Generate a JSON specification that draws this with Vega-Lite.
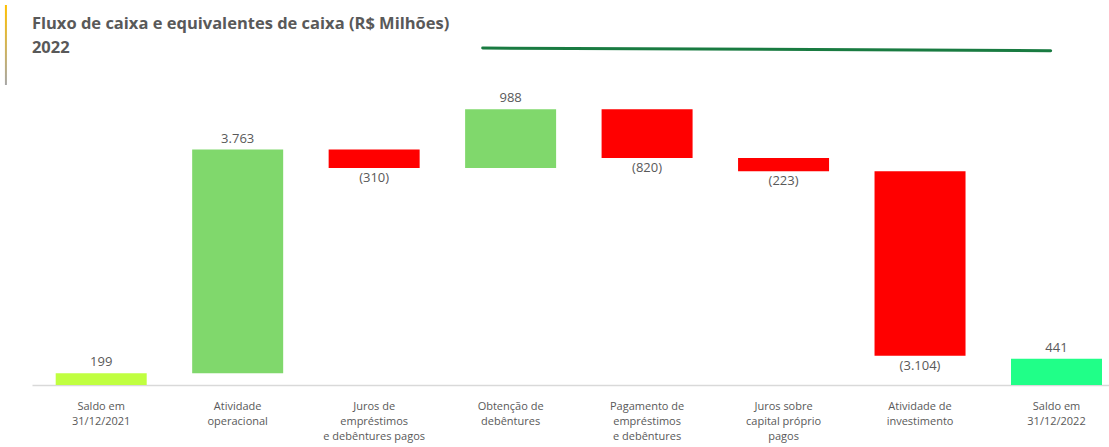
{
  "$schema": "https://vega.github.io/schema/vega-lite/v6.json",
  "width": 1077,
  "height": 315,
  "autosize": "none",
  "padding": {"left": 32, "top": 70, "right": 0, "bottom": 62},
  "title": {
    "text": ["Fluxo de caixa e equivalentes de caixa (R$ Milhões)", "2022"],
    "anchor": "start",
    "font": "Open Sans",
    "fontSize": 16.5,
    "fontWeight": "bold",
    "color": "#595959",
    "lineHeight": 24,
    "baseline": "top",
    "offset": 0,
    "dx": 27,
    "dy": 52
  },
  "config": {
    "view": {"stroke": null},
    "locale": {"number": {"decimal": ",", "thousands": ".", "grouping": [3], "currency": ["R$", ""]}}
  },
  "layer": [
    {
      "data": {"values": [
        {"cat": "Saldo em|31/12/2021", "start": 0, "end": 199, "value": 199, "kind": "inicio"},
        {"cat": "Atividade|operacional", "start": 199, "end": 3962, "value": 3763, "kind": "pos"},
        {"cat": "Juros de|empréstimos|e debêntures pagos", "start": 3962, "end": 3652, "value": -310, "kind": "neg"},
        {"cat": "Obtenção de|debêntures", "start": 3652, "end": 4640, "value": 988, "kind": "pos"},
        {"cat": "Pagamento de|empréstimos|e debêntures", "start": 4640, "end": 3820, "value": -820, "kind": "neg"},
        {"cat": "Juros sobre|capital próprio|pagos", "start": 3820, "end": 3597, "value": -223, "kind": "neg"},
        {"cat": "Atividade de|investimento", "start": 3597, "end": 493, "value": -3104, "kind": "neg"},
        {"cat": "Saldo em|31/12/2022", "start": 0, "end": 441, "value": 441, "kind": "fim"}
      ]},
      "layer": [
        {
          "mark": {"type": "bar"},
          "encoding": {
            "x": {
              "field": "cat", "type": "nominal", "title": null,
              "scale": {
                "domain": ["Saldo em|31/12/2021", "Atividade|operacional", "Juros de|empréstimos|e debêntures pagos", "Obtenção de|debêntures", "Pagamento de|empréstimos|e debêntures", "Juros sobre|capital próprio|pagos", "Atividade de|investimento", "Saldo em|31/12/2022"],
                "paddingInner": 0.3332, "paddingOuter": 0.1125, "align": 0.772, "round": false
              },
              "axis": {
                "labelExpr": "split(datum.label, '|')",
                "labelAngle": 0,
                "labelFont": "Open Sans",
                "labelFontSize": 11,
                "labelColor": "#595959",
                "labelLineHeight": 15,
                "labelPadding": 15,
                "labelBaseline": "top",
                "ticks": false,
                "domainColor": "#d9d9d9",
                "domainWidth": 1.5,
                "grid": false
              }
            },
            "y": {"field": "start", "type": "quantitative", "scale": {"domain": [0, 5300], "nice": false, "zero": true}, "axis": null},
            "y2": {"field": "end"},
            "color": {
              "field": "kind", "type": "nominal", "legend": null,
              "scale": {"domain": ["inicio", "pos", "neg", "fim"], "range": ["#c0ff40", "#80d86c", "#ff0000", "#20ff88"]}
            }
          }
        },
        {
          "transform": [{"filter": "datum.kind != 'neg'"}],
          "mark": {"type": "text", "baseline": "bottom", "dy": -4, "font": "Open Sans", "fontSize": 13, "color": "#595959"},
          "encoding": {
            "x": {"field": "cat", "type": "nominal"},
            "y": {"field": "end", "type": "quantitative"},
            "text": {"field": "value", "type": "quantitative", "format": "(,.0f"}
          }
        },
        {
          "transform": [{"filter": "datum.kind == 'neg'"}],
          "mark": {"type": "text", "baseline": "top", "dy": 4, "font": "Open Sans", "fontSize": 13, "color": "#595959"},
          "encoding": {
            "x": {"field": "cat", "type": "nominal"},
            "y": {"field": "end", "type": "quantitative"},
            "text": {"field": "value", "type": "quantitative", "format": "(,.0f"}
          }
        }
      ]
    },
    {
      "data": {"values": [
        {"from": "Obtenção de|debêntures", "to": "Saldo em|31/12/2022", "y1": 5670, "y2": 5625}
      ]},
      "mark": {"type": "rule", "color": "#197b41", "strokeWidth": 3, "strokeCap": "round"},
      "encoding": {
        "x": {"field": "from", "type": "nominal", "bandPosition": 0.193},
        "x2": {"field": "to", "bandPosition": 0.436},
        "y": {"field": "y1", "type": "quantitative"},
        "y2": {"field": "y2"}
      }
    },
    {
      "data": {"values": [
        {"from": "Saldo em|31/12/2021", "y1": 6394, "y2": 5048}
      ]},
      "mark": {
        "type": "rect",
        "color": {"gradient": "linear", "x1": 0, "y1": 0, "x2": 0, "y2": 1, "stops": [{"offset": 0, "color": "#ffc000"}, {"offset": 1, "color": "#a6a6a6"}]}
      },
      "encoding": {
        "x": {"field": "from", "type": "nominal", "bandPosition": -0.558},
        "x2": {"field": "from", "bandPosition": -0.536},
        "y": {"field": "y1", "type": "quantitative"},
        "y2": {"field": "y2"}
      }
    }
  ]
}
